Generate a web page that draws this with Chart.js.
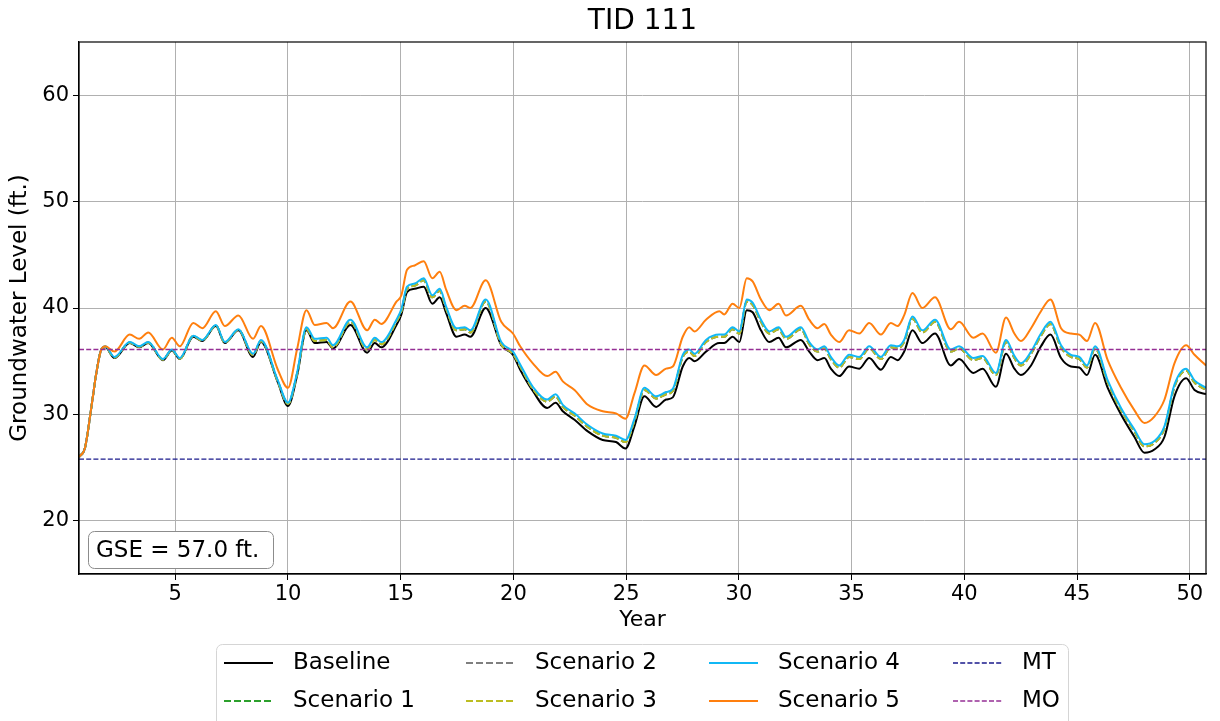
<!DOCTYPE html>
<html>
<head>
<meta charset="utf-8">
<title>TID 111</title>
<script src="https://cdn.jsdelivr.net/npm/chart.js@4.4.0/dist/chart.umd.min.js"></script>
<style>
  html, body { margin: 0; padding: 0; background: #fff; }
</style>
</head>
<body>
<canvas id="chart" width="1220" height="721"></canvas>
<script>
// values
const years = [
  0.73, 1.0, 1.28, 1.5, 1.72, 1.9, 2.3, 2.98, 3.4, 3.8,
  4.45, 4.85, 5.2, 5.8, 6.2, 6.8, 7.2, 7.8, 8.45, 8.8,
  9.55, 10.0, 10.4, 10.82, 11.19, 11.71, 12.0, 12.77, 13.51, 13.85,
  14.14, 14.81, 15.03, 15.28, 15.62, 16.02, 16.4, 16.73, 17.02, 17.47,
  17.84, 18.09, 18.77, 19.46, 19.98, 20.3, 20.86, 21.5, 21.87, 22.19,
  22.71, 23.3, 23.96, 24.55, 24.97, 25.37, 25.81, 26.33, 26.77, 27.07,
  27.51, 27.8, 28.03, 28.54, 29.13, 29.35, 29.72, 30.02, 30.35, 30.61,
  30.98, 31.35, 31.76, 32.09, 32.75, 33.12, 33.49, 33.79, 34.08, 34.45,
  34.89, 35.34, 35.78, 36.3, 36.74, 37.04, 37.33, 37.7, 38.14, 38.7,
  39.4, 39.77, 40.4, 40.81, 41.4, 41.85, 42.22, 42.51, 42.96, 43.4,
  43.82, 44.29, 44.73, 45.1, 45.44, 45.8, 46.36, 46.95, 47.54, 47.99,
  48.43, 48.88, 49.32, 49.84, 50.21, 50.72
];

const baseline = [
  26.0, 26.9, 30.7, 33.9, 36.1, 36.3, 35.3, 36.7, 36.3, 36.7,
  35.1, 36.0, 35.2, 37.3, 36.9, 38.3, 36.7, 37.9, 35.4, 36.8,
  33.0, 30.8, 33.6, 37.9, 36.7, 36.8, 36.2, 38.4, 35.8, 36.7,
  36.3, 38.4, 39.4, 41.5, 41.8, 42.0, 40.4, 41.0, 39.5, 37.3,
  37.5, 37.3, 40.0, 36.5, 35.6, 34.2, 32.2, 30.6, 31.1, 30.3,
  29.5, 28.4, 27.6, 27.4, 26.8, 28.9, 31.7, 30.7, 31.4, 31.6,
  34.5, 35.3, 35.0, 35.9, 36.7, 36.7, 37.3, 36.8, 39.8, 39.6,
  37.9, 36.8, 37.2, 36.3, 37.0, 35.9, 35.1, 35.3, 34.3, 33.6,
  34.5, 34.3, 35.3, 34.2, 35.4, 35.1, 35.9, 37.9, 36.7, 37.6,
  34.6, 35.2, 33.9, 34.3, 32.6, 35.7, 34.3, 33.7, 34.6, 36.4,
  37.5, 35.3, 34.5, 34.4, 33.7, 35.6, 32.5, 30.0, 27.9, 26.4,
  26.7, 27.9, 31.7, 33.4, 32.3, 31.9
];

const scenario1 = [
  26.0, 26.9, 30.7, 33.9, 36.1, 36.35, 35.35, 36.75, 36.35, 36.75,
  35.15, 36.05, 35.25, 37.35, 36.95, 38.35, 36.75, 37.95, 35.6, 36.9,
  33.1, 31.0, 33.8, 38.0, 36.9, 37.0, 36.3, 38.7, 36.1, 37.0,
  36.6, 38.7, 39.7, 41.8, 42.1, 42.6, 41.0, 41.6, 39.9, 37.9,
  38.0, 37.7, 40.6, 36.6, 35.7, 34.5, 32.4, 31.2, 31.7, 30.7,
  29.9, 28.8, 28.0, 27.8, 27.4, 29.4, 32.3, 31.5, 31.9, 32.2,
  35.4, 35.9, 35.5, 36.8, 37.3, 37.3, 38.0, 37.6, 40.6, 40.3,
  38.7, 37.6, 38.0, 37.1, 38.0, 36.6, 35.9, 36.2, 35.2, 34.4,
  35.4, 35.2, 36.2, 35.2, 36.3, 36.2, 36.8, 39.0, 37.7, 38.7,
  35.9, 36.2, 35.1, 35.3, 33.7, 36.8, 35.3, 34.6, 35.7, 37.4,
  38.5, 36.3, 35.4, 35.2, 34.4, 36.2, 33.0, 30.4, 28.4, 27.0,
  27.3, 28.7, 32.6, 34.1, 33.0, 32.3
];

const scenario2 = [
  26.0, 26.9, 30.7, 33.9, 36.1, 36.35, 35.35, 36.75, 36.35, 36.75,
  35.15, 36.05, 35.25, 37.35, 36.95, 38.35, 36.75, 37.95, 35.6, 36.9,
  33.1, 31.0, 33.8, 38.0, 36.9, 37.0, 36.3, 38.7, 36.1, 37.0,
  36.6, 38.7, 39.7, 41.8, 42.1, 42.6, 41.0, 41.6, 39.9, 37.9,
  38.0, 37.7, 40.6, 36.6, 35.7, 34.5, 32.4, 31.2, 31.7, 30.7,
  29.9, 28.8, 28.0, 27.8, 27.4, 29.4, 32.3, 31.5, 31.9, 32.2,
  35.4, 35.9, 35.5, 36.8, 37.3, 37.3, 38.0, 37.6, 40.6, 40.3,
  38.7, 37.6, 38.0, 37.1, 38.0, 36.6, 35.9, 36.2, 35.2, 34.4,
  35.4, 35.2, 36.2, 35.2, 36.3, 36.2, 36.8, 39.0, 37.7, 38.7,
  35.9, 36.2, 35.1, 35.3, 33.7, 36.8, 35.3, 34.6, 35.7, 37.4,
  38.5, 36.3, 35.4, 35.2, 34.4, 36.2, 33.0, 30.4, 28.4, 27.0,
  27.3, 28.7, 32.6, 34.1, 33.0, 32.3
];

const scenario3 = [
  26.0, 26.9, 30.7, 33.9, 36.1, 36.35, 35.35, 36.75, 36.35, 36.75,
  35.15, 36.05, 35.25, 37.35, 36.95, 38.35, 36.75, 37.95, 35.6, 36.9,
  33.1, 31.0, 33.8, 38.0, 36.9, 37.0, 36.3, 38.7, 36.1, 37.0,
  36.6, 38.7, 39.7, 41.8, 42.1, 42.6, 41.0, 41.6, 39.9, 37.9,
  38.0, 37.7, 40.6, 36.6, 35.7, 34.5, 32.4, 31.2, 31.7, 30.7,
  29.9, 28.8, 28.0, 27.8, 27.4, 29.4, 32.3, 31.5, 31.9, 32.2,
  35.4, 35.9, 35.5, 36.8, 37.3, 37.3, 38.0, 37.6, 40.6, 40.3,
  38.7, 37.6, 38.0, 37.1, 38.0, 36.6, 35.9, 36.2, 35.2, 34.4,
  35.4, 35.2, 36.2, 35.2, 36.3, 36.2, 36.8, 39.0, 37.7, 38.7,
  35.9, 36.2, 35.1, 35.3, 33.7, 36.8, 35.3, 34.6, 35.7, 37.4,
  38.5, 36.3, 35.4, 35.2, 34.4, 36.2, 33.0, 30.4, 28.4, 27.0,
  27.3, 28.7, 32.6, 34.1, 33.0, 32.3
];

const scenario4 = [
  26.0, 26.9, 30.7, 33.9, 36.1, 36.4, 35.4, 36.8, 36.4, 36.8,
  35.2, 36.1, 35.3, 37.4, 37.0, 38.4, 36.8, 38.0, 35.7, 37.0,
  33.2, 31.1, 33.9, 38.2, 37.1, 37.2, 36.5, 38.9, 36.3, 37.2,
  36.8, 38.9, 39.9, 42.0, 42.3, 42.8, 41.2, 41.8, 40.1, 38.1,
  38.2, 37.9, 40.8, 36.8, 35.9, 34.7, 32.6, 31.4, 31.9, 30.9,
  30.1, 29.0, 28.2, 28.0, 27.6, 29.6, 32.5, 31.7, 32.1, 32.4,
  35.6, 36.1, 35.7, 37.0, 37.5, 37.5, 38.2, 37.8, 40.8, 40.5,
  38.9, 37.8, 38.2, 37.3, 38.2, 36.8, 36.1, 36.4, 35.4, 34.6,
  35.6, 35.4, 36.4, 35.4, 36.5, 36.4, 37.0, 39.2, 37.9, 38.9,
  36.1, 36.4, 35.3, 35.5, 33.9, 37.0, 35.5, 34.8, 35.9, 37.6,
  38.7, 36.5, 35.6, 35.4, 34.6, 36.4, 33.2, 30.6, 28.6, 27.2,
  27.5, 28.9, 32.8, 34.3, 33.2, 32.5
];

const scenario5 = [
  26.0, 26.9, 30.7, 33.9, 36.1, 36.4, 35.9, 37.5, 37.1, 37.7,
  36.1, 37.2, 36.4, 38.6, 38.1, 39.7, 38.3, 39.3, 37.1, 38.3,
  34.2, 32.5, 36.1, 39.8, 38.4, 38.6, 38.1, 40.6, 37.9, 38.9,
  38.5, 40.6, 41.2, 43.6, 44.0, 44.4, 42.8, 43.4, 41.7, 39.8,
  40.2, 40.0, 42.6, 38.7, 37.6, 36.4, 34.8, 33.6, 34.0, 33.1,
  32.3, 30.9, 30.3, 30.1, 29.6, 32.0, 34.6, 33.7, 34.3, 34.5,
  37.3, 38.2, 37.8, 38.9, 39.7, 39.4, 40.4, 40.0, 42.8, 42.5,
  40.8, 39.8, 40.4, 39.3, 40.2, 38.9, 38.1, 38.5, 37.5, 36.8,
  37.9, 37.6, 38.6, 37.5, 38.6, 38.3, 39.3, 41.4, 40.0, 41.0,
  38.0, 38.7, 37.2, 37.6, 35.8, 39.1, 37.6, 36.9, 38.1, 39.7,
  40.8, 38.1, 37.6, 37.5, 36.9, 38.6, 35.1, 32.5, 30.4, 29.2,
  29.8, 31.4, 34.8, 36.5, 35.6, 34.6
];

const mtLevel = 25.8;
const moLevel = 36.1;
const gseText = 'GSE = 57.0 ft.';

const xTicks = [5, 10, 15, 20, 25, 30, 35, 40, 45, 50];
const yTicks = [20, 30, 40, 50, 60];
const xMin = 0.73, xMax = 50.72;

Chart.defaults.font.family = "'DejaVu Sans', sans-serif";
Chart.defaults.color = '#000';

function toPoints(vals) {
  return years.map((x, i) => ({ x: x, y: vals[i] }));
}

function flatLine(level) {
  return [{ x: xMin, y: level }, { x: xMax, y: level }];
}

const datasets = [
  { label: 'Baseline', data: toPoints(baseline), borderColor: '#000000', borderWidth: 2, order: 8 },
  { label: 'Scenario 1', data: toPoints(scenario1), borderColor: '#2ca02c', borderWidth: 2, borderDash: [7, 3], order: 7 },
  { label: 'Scenario 2', data: toPoints(scenario2), borderColor: '#7f7f7f', borderWidth: 2, borderDash: [7, 3], order: 6 },
  { label: 'Scenario 3', data: toPoints(scenario3), borderColor: '#bcbd22', borderWidth: 2, borderDash: [7, 3], order: 5 },
  { label: 'Scenario 4', data: toPoints(scenario4), borderColor: '#11b8f5', borderWidth: 2, order: 4 },
  { label: 'Scenario 5', data: toPoints(scenario5), borderColor: '#ff7f0e', borderWidth: 2, order: 3 },
  { label: 'MT', data: flatLine(mtLevel), borderColor: '#1a1a8c', borderWidth: 1.4, borderDash: [5, 2.2], order: 2 },
  { label: 'MO', data: flatLine(moLevel), borderColor: '#952f95', borderWidth: 1.4, borderDash: [5, 2.2], order: 1 }
];

// title, frame, GSE box and the 4x2 legend (matplotlib style)
const extras = {
  id: 'extras',
  afterDraw(chart) {
    const ctx = chart.ctx;
    const a = chart.chartArea;
    ctx.save();

    // frame
    ctx.strokeStyle = '#000';
    ctx.lineWidth = 1.2;
    ctx.setLineDash([]);
    ctx.strokeRect(a.left, a.top, a.right - a.left, a.bottom - a.top);

    // title
    ctx.fillStyle = '#000';
    ctx.font = "28px 'DejaVu Sans', sans-serif";
    ctx.textAlign = 'center';
    ctx.textBaseline = 'middle';
    ctx.fillText('TID 111', (a.left + a.right) / 2, 22);

    // GSE box
    ctx.beginPath();
    ctx.roundRect(a.left + 9.5, a.bottom - 42.5, 185, 37, 6);
    ctx.fillStyle = '#fff';
    ctx.fill();
    ctx.strokeStyle = '#8c8c8c';
    ctx.lineWidth = 1;
    ctx.stroke();
    ctx.fillStyle = '#000';
    ctx.font = "23px 'DejaVu Sans', sans-serif";
    ctx.textAlign = 'left';
    ctx.fillText(gseText, a.left + 17, a.bottom - 23);

    // legend
    ctx.beginPath();
    ctx.roundRect(216.5, 644.5, 852, 100, 6);
    ctx.fillStyle = '#fff';
    ctx.fill();
    ctx.strokeStyle = '#d5d5d5';
    ctx.stroke();
    const colX = [224, 466, 709, 953];
    const rowY = [663, 701];
    ctx.font = "23px 'DejaVu Sans', sans-serif";
    for (let c = 0; c < 4; c++) {
      for (let r = 0; r < 2; r++) {
        const ds = chart.data.datasets[c * 2 + r];
        ctx.strokeStyle = ds.borderColor;
        ctx.lineWidth = ds.borderWidth;
        ctx.setLineDash(ds.borderDash || []);
        ctx.beginPath();
        ctx.moveTo(colX[c], rowY[r]);
        ctx.lineTo(colX[c] + 49, rowY[r]);
        ctx.stroke();
        ctx.setLineDash([]);
        ctx.fillStyle = '#000';
        ctx.fillText(ds.label, colX[c] + 69, rowY[r]);
      }
    }
    ctx.restore();
  }
};

new Chart(document.getElementById('chart'), {
  type: 'line',
  data: { datasets: datasets },
  options: {
    responsive: false,
    animation: false,
    events: [],
    layout: { padding: { top: 42, right: 14, bottom: 82, left: 0 } },
    elements: {
      point: { radius: 0 },
      line: { cubicInterpolationMode: 'monotone', fill: false }
    },
    plugins: {
      legend: { display: false },
      title: { display: false },
      tooltip: { enabled: false }
    },
    scales: {
      x: {
        type: 'linear',
        min: xMin,
        max: xMax,
        afterBuildTicks: s => { s.ticks = xTicks.map(v => ({ value: v })); },
        afterFit: s => { s.height = 65; },
        grid: { color: '#b0b0b0', lineWidth: 1, tickLength: 6, tickColor: '#000' },
        border: { color: '#000', width: 1.2 },
        ticks: { font: { size: 21 }, padding: 2, maxRotation: 0 },
        title: { display: true, text: 'Year', font: { size: 22 }, padding: { top: 0, bottom: 6 } }
      },
      y: {
        min: 15,
        max: 65,
        afterBuildTicks: s => { s.ticks = yTicks.map(v => ({ value: v })); },
        afterFit: s => { s.width = 79; },
        grid: { color: '#b0b0b0', lineWidth: 1, tickLength: 6, tickColor: '#000' },
        border: { color: '#000', width: 1.2 },
        ticks: { font: { size: 21 }, padding: 4 },
        title: { display: true, text: 'Groundwater Level (ft.)', font: { size: 23 }, padding: { top: 6, bottom: 0 } }
      }
    }
  },
  plugins: [extras]
});
</script>
</body>
</html>
